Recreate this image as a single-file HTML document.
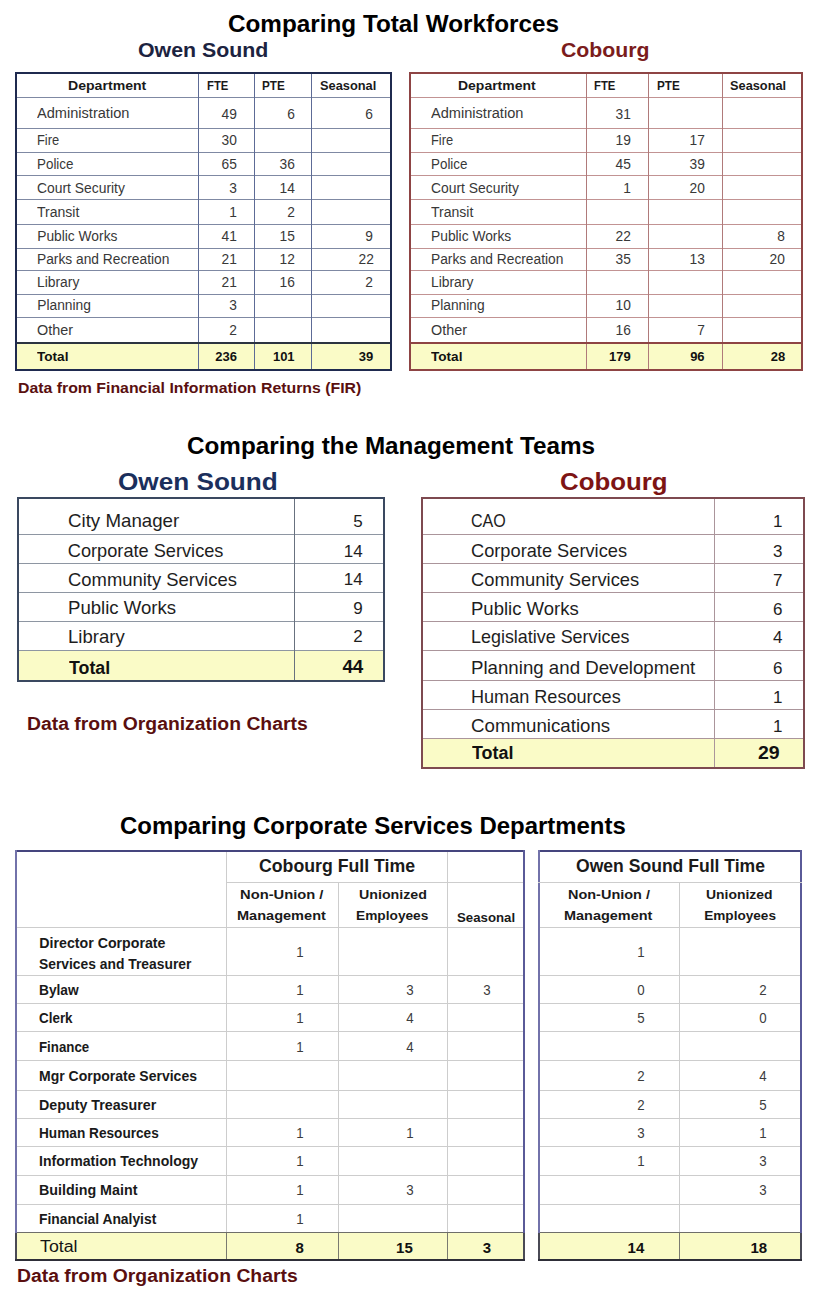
<!DOCTYPE html>
<html><head><meta charset="utf-8"><style>
html,body{margin:0;padding:0;background:#fff;}
body{width:816px;height:1297px;position:relative;overflow:hidden;font-family:"Liberation Sans",sans-serif;}
body>div{position:absolute;box-sizing:content-box;}
.t{line-height:1;white-space:nowrap;}
</style></head><body>
<div class="t" style="left:228.00px;top:13.28px;font-size:23.3px;font-weight:bold;color:#000;transform:scaleX(1.0421);transform-origin:left;">Comparing Total Workforces</div>
<div class="t" style="left:137.50px;top:40.27px;font-size:20px;font-weight:bold;color:#1c2340;transform:scaleX(1.0661);transform-origin:left;">Owen Sound</div>
<div class="t" style="left:560.70px;top:39.69px;font-size:20.8px;font-weight:bold;color:#7b1c1c;transform:scaleX(1.0226);transform-origin:left;">Cobourg</div>
<div style="left:15px;top:344px;width:377px;height:25px;background:#fafbc7"></div>
<div style="left:15px;top:97px;width:377px;height:1px;background:#7f89a3"></div>
<div style="left:15px;top:128px;width:377px;height:1px;background:#7f89a3"></div>
<div style="left:15px;top:152px;width:377px;height:1px;background:#7f89a3"></div>
<div style="left:15px;top:175px;width:377px;height:1px;background:#7f89a3"></div>
<div style="left:15px;top:199px;width:377px;height:1px;background:#7f89a3"></div>
<div style="left:15px;top:224px;width:377px;height:1px;background:#7f89a3"></div>
<div style="left:15px;top:248px;width:377px;height:1px;background:#7f89a3"></div>
<div style="left:15px;top:270px;width:377px;height:1px;background:#7f89a3"></div>
<div style="left:15px;top:294px;width:377px;height:1px;background:#7f89a3"></div>
<div style="left:15px;top:317px;width:377px;height:1px;background:#7f89a3"></div>
<div style="left:198px;top:72px;width:1px;height:299px;background:#5d6b96"></div>
<div style="left:254px;top:72px;width:1px;height:299px;background:#5d6b96"></div>
<div style="left:311px;top:72px;width:1px;height:299px;background:#5d6b96"></div>
<div style="left:15px;top:342px;width:377px;height:2px;background:#2c3440"></div>
<div style="left:15px;top:72px;width:373px;height:295px;border:2px solid #1f2a4f"></div>
<div class="t" style="left:68.10px;top:79.10px;font-size:13px;font-weight:bold;color:#1a1a1a;transform:scaleX(1.0839);transform-origin:left;">Department</div>
<div class="t" style="left:206.90px;top:79.10px;font-size:13px;font-weight:bold;color:#1a1a1a;transform:scaleX(0.8675);transform-origin:left;">FTE</div>
<div class="t" style="left:262.30px;top:79.10px;font-size:13px;font-weight:bold;color:#1a1a1a;transform:scaleX(0.9018);transform-origin:left;">PTE</div>
<div class="t" style="left:319.90px;top:79.10px;font-size:13px;font-weight:bold;color:#1a1a1a;transform:scaleX(0.9862);transform-origin:left;">Seasonal</div>
<div class="t" style="left:37.20px;top:104.75px;font-size:15.3px;color:#383838;transform:scaleX(0.9531);transform-origin:left;">Administration</div>
<div class="t" style="left:221.20px;top:106.88px;font-size:14.2px;color:#383838;transform:scaleX(0.9700);transform-origin:right;">49</div>
<div class="t" style="left:286.70px;top:106.88px;font-size:14.2px;color:#383838;transform:scaleX(0.9700);transform-origin:right;">6</div>
<div class="t" style="left:365.40px;top:106.88px;font-size:14.2px;color:#383838;transform:scaleX(0.9700);transform-origin:right;">6</div>
<div class="t" style="left:37.20px;top:134.22px;font-size:13.8px;color:#383838;transform:scaleX(0.9341);transform-origin:left;">Fire</div>
<div class="t" style="left:221.20px;top:133.38px;font-size:14.2px;color:#383838;transform:scaleX(0.9700);transform-origin:right;">30</div>
<div class="t" style="left:37.20px;top:158.02px;font-size:13.8px;color:#383838;transform:scaleX(0.9711);transform-origin:left;">Police</div>
<div class="t" style="left:221.20px;top:157.18px;font-size:14.2px;color:#383838;transform:scaleX(0.9700);transform-origin:right;">65</div>
<div class="t" style="left:278.80px;top:157.18px;font-size:14.2px;color:#383838;transform:scaleX(0.9700);transform-origin:right;">36</div>
<div class="t" style="left:37.20px;top:181.92px;font-size:13.8px;color:#383838;transform:scaleX(1.0054);transform-origin:left;">Court Security</div>
<div class="t" style="left:229.10px;top:181.08px;font-size:14.2px;color:#383838;transform:scaleX(0.9700);transform-origin:right;">3</div>
<div class="t" style="left:278.80px;top:181.08px;font-size:14.2px;color:#383838;transform:scaleX(0.9700);transform-origin:right;">14</div>
<div class="t" style="left:37.20px;top:206.22px;font-size:13.8px;color:#383838;transform:scaleX(1.0177);transform-origin:left;">Transit</div>
<div class="t" style="left:229.10px;top:205.38px;font-size:14.2px;color:#383838;transform:scaleX(0.9700);transform-origin:right;">1</div>
<div class="t" style="left:286.70px;top:205.38px;font-size:14.2px;color:#383838;transform:scaleX(0.9700);transform-origin:right;">2</div>
<div class="t" style="left:37.20px;top:229.62px;font-size:13.8px;color:#383838;">Public Works</div>
<div class="t" style="left:221.20px;top:228.78px;font-size:14.2px;color:#383838;transform:scaleX(0.9700);transform-origin:right;">41</div>
<div class="t" style="left:278.80px;top:228.78px;font-size:14.2px;color:#383838;transform:scaleX(0.9700);transform-origin:right;">15</div>
<div class="t" style="left:365.40px;top:228.78px;font-size:14.2px;color:#383838;transform:scaleX(0.9700);transform-origin:right;">9</div>
<div class="t" style="left:37.20px;top:252.82px;font-size:13.8px;color:#383838;transform:scaleX(0.9977);transform-origin:left;">Parks and Recreation</div>
<div class="t" style="left:221.20px;top:251.98px;font-size:14.2px;color:#383838;transform:scaleX(0.9700);transform-origin:right;">21</div>
<div class="t" style="left:278.80px;top:251.98px;font-size:14.2px;color:#383838;transform:scaleX(0.9700);transform-origin:right;">12</div>
<div class="t" style="left:357.50px;top:251.98px;font-size:14.2px;color:#383838;transform:scaleX(0.9700);transform-origin:right;">22</div>
<div class="t" style="left:37.20px;top:275.52px;font-size:13.8px;color:#383838;transform:scaleX(1.0051);transform-origin:left;">Library</div>
<div class="t" style="left:221.20px;top:274.68px;font-size:14.2px;color:#383838;transform:scaleX(0.9700);transform-origin:right;">21</div>
<div class="t" style="left:278.80px;top:274.68px;font-size:14.2px;color:#383838;transform:scaleX(0.9700);transform-origin:right;">16</div>
<div class="t" style="left:365.40px;top:274.68px;font-size:14.2px;color:#383838;transform:scaleX(0.9700);transform-origin:right;">2</div>
<div class="t" style="left:37.20px;top:299.22px;font-size:13.8px;color:#383838;">Planning</div>
<div class="t" style="left:229.10px;top:298.38px;font-size:14.2px;color:#383838;transform:scaleX(0.9700);transform-origin:right;">3</div>
<div class="t" style="left:37.20px;top:323.72px;font-size:13.8px;color:#383838;transform:scaleX(1.0431);transform-origin:left;">Other</div>
<div class="t" style="left:229.10px;top:322.88px;font-size:14.2px;color:#383838;transform:scaleX(0.9700);transform-origin:right;">2</div>
<div class="t" style="left:37.20px;top:349.90px;font-size:13px;font-weight:bold;color:#111;transform:scaleX(1.0436);transform-origin:left;">Total</div>
<div class="t" style="left:215.31px;top:349.90px;font-size:13px;font-weight:bold;color:#111;">236</div>
<div class="t" style="left:272.91px;top:349.90px;font-size:13px;font-weight:bold;color:#111;">101</div>
<div class="t" style="left:358.84px;top:349.90px;font-size:13px;font-weight:bold;color:#111;">39</div>
<div style="left:409px;top:344px;width:394px;height:25px;background:#fafbc7"></div>
<div style="left:409px;top:97px;width:394px;height:1px;background:#c29393"></div>
<div style="left:409px;top:128px;width:394px;height:1px;background:#c29393"></div>
<div style="left:409px;top:152px;width:394px;height:1px;background:#c29393"></div>
<div style="left:409px;top:175px;width:394px;height:1px;background:#c29393"></div>
<div style="left:409px;top:199px;width:394px;height:1px;background:#c29393"></div>
<div style="left:409px;top:224px;width:394px;height:1px;background:#c29393"></div>
<div style="left:409px;top:248px;width:394px;height:1px;background:#c29393"></div>
<div style="left:409px;top:270px;width:394px;height:1px;background:#c29393"></div>
<div style="left:409px;top:294px;width:394px;height:1px;background:#c29393"></div>
<div style="left:409px;top:317px;width:394px;height:1px;background:#c29393"></div>
<div style="left:586px;top:72px;width:1px;height:299px;background:#b07a7a"></div>
<div style="left:648px;top:72px;width:1px;height:299px;background:#b07a7a"></div>
<div style="left:722px;top:72px;width:1px;height:299px;background:#b07a7a"></div>
<div style="left:409px;top:342px;width:394px;height:2px;background:#8e4444"></div>
<div style="left:409px;top:72px;width:390px;height:295px;border:2px solid #8e4444"></div>
<div class="t" style="left:458.10px;top:79.10px;font-size:13px;font-weight:bold;color:#1a1a1a;transform:scaleX(1.0742);transform-origin:left;">Department</div>
<div class="t" style="left:593.80px;top:79.10px;font-size:13px;font-weight:bold;color:#1a1a1a;transform:scaleX(0.8675);transform-origin:left;">FTE</div>
<div class="t" style="left:656.60px;top:79.10px;font-size:13px;font-weight:bold;color:#1a1a1a;transform:scaleX(0.9018);transform-origin:left;">PTE</div>
<div class="t" style="left:729.90px;top:79.10px;font-size:13px;font-weight:bold;color:#1a1a1a;transform:scaleX(0.9827);transform-origin:left;">Seasonal</div>
<div class="t" style="left:431.00px;top:104.75px;font-size:15.3px;color:#383838;transform:scaleX(0.9531);transform-origin:left;">Administration</div>
<div class="t" style="left:615.00px;top:106.88px;font-size:14.2px;color:#383838;transform:scaleX(0.9700);transform-origin:right;">31</div>
<div class="t" style="left:431.00px;top:134.22px;font-size:13.8px;color:#383838;transform:scaleX(0.9341);transform-origin:left;">Fire</div>
<div class="t" style="left:615.00px;top:133.38px;font-size:14.2px;color:#383838;transform:scaleX(0.9700);transform-origin:right;">19</div>
<div class="t" style="left:688.80px;top:133.38px;font-size:14.2px;color:#383838;transform:scaleX(0.9700);transform-origin:right;">17</div>
<div class="t" style="left:431.00px;top:158.02px;font-size:13.8px;color:#383838;transform:scaleX(0.9711);transform-origin:left;">Police</div>
<div class="t" style="left:615.00px;top:157.18px;font-size:14.2px;color:#383838;transform:scaleX(0.9700);transform-origin:right;">45</div>
<div class="t" style="left:688.80px;top:157.18px;font-size:14.2px;color:#383838;transform:scaleX(0.9700);transform-origin:right;">39</div>
<div class="t" style="left:431.00px;top:181.92px;font-size:13.8px;color:#383838;transform:scaleX(1.0054);transform-origin:left;">Court Security</div>
<div class="t" style="left:622.90px;top:181.08px;font-size:14.2px;color:#383838;transform:scaleX(0.9700);transform-origin:right;">1</div>
<div class="t" style="left:688.80px;top:181.08px;font-size:14.2px;color:#383838;transform:scaleX(0.9700);transform-origin:right;">20</div>
<div class="t" style="left:431.00px;top:206.22px;font-size:13.8px;color:#383838;transform:scaleX(1.0177);transform-origin:left;">Transit</div>
<div class="t" style="left:431.00px;top:229.62px;font-size:13.8px;color:#383838;">Public Works</div>
<div class="t" style="left:615.00px;top:228.78px;font-size:14.2px;color:#383838;transform:scaleX(0.9700);transform-origin:right;">22</div>
<div class="t" style="left:777.30px;top:228.78px;font-size:14.2px;color:#383838;transform:scaleX(0.9700);transform-origin:right;">8</div>
<div class="t" style="left:431.00px;top:252.82px;font-size:13.8px;color:#383838;transform:scaleX(0.9977);transform-origin:left;">Parks and Recreation</div>
<div class="t" style="left:615.00px;top:251.98px;font-size:14.2px;color:#383838;transform:scaleX(0.9700);transform-origin:right;">35</div>
<div class="t" style="left:688.80px;top:251.98px;font-size:14.2px;color:#383838;transform:scaleX(0.9700);transform-origin:right;">13</div>
<div class="t" style="left:769.40px;top:251.98px;font-size:14.2px;color:#383838;transform:scaleX(0.9700);transform-origin:right;">20</div>
<div class="t" style="left:431.00px;top:275.52px;font-size:13.8px;color:#383838;transform:scaleX(1.0051);transform-origin:left;">Library</div>
<div class="t" style="left:431.00px;top:299.22px;font-size:13.8px;color:#383838;">Planning</div>
<div class="t" style="left:615.00px;top:298.38px;font-size:14.2px;color:#383838;transform:scaleX(0.9700);transform-origin:right;">10</div>
<div class="t" style="left:431.00px;top:323.72px;font-size:13.8px;color:#383838;transform:scaleX(1.0431);transform-origin:left;">Other</div>
<div class="t" style="left:615.00px;top:322.88px;font-size:14.2px;color:#383838;transform:scaleX(0.9700);transform-origin:right;">16</div>
<div class="t" style="left:696.70px;top:322.88px;font-size:14.2px;color:#383838;transform:scaleX(0.9700);transform-origin:right;">7</div>
<div class="t" style="left:431.00px;top:349.90px;font-size:13px;font-weight:bold;color:#111;transform:scaleX(1.0436);transform-origin:left;">Total</div>
<div class="t" style="left:609.11px;top:349.90px;font-size:13px;font-weight:bold;color:#111;">179</div>
<div class="t" style="left:690.14px;top:349.90px;font-size:13px;font-weight:bold;color:#111;">96</div>
<div class="t" style="left:770.74px;top:349.90px;font-size:13px;font-weight:bold;color:#111;">28</div>
<div class="t" style="left:18.10px;top:380.16px;font-size:15.4px;font-weight:bold;color:#5a0f0f;transform:scaleX(1.0294);transform-origin:left;">Data from Financial Information Returns (FIR)</div>
<div class="t" style="left:187.10px;top:434.91px;font-size:23.5px;font-weight:bold;color:#000;transform:scaleX(1.0323);transform-origin:left;">Comparing the Management Teams</div>
<div class="t" style="left:117.60px;top:470.21px;font-size:24.8px;font-weight:bold;color:#1b2f5c;transform:scaleX(1.0544);transform-origin:left;">Owen Sound</div>
<div class="t" style="left:560.20px;top:470.41px;font-size:24.8px;font-weight:bold;color:#7d1414;transform:scaleX(1.0406);transform-origin:left;">Cobourg</div>
<div style="left:19px;top:651px;width:365px;height:29px;background:#fafbc7"></div>
<div style="left:17px;top:534px;width:368px;height:1px;background:#8e96a2"></div>
<div style="left:17px;top:563px;width:368px;height:1px;background:#8e96a2"></div>
<div style="left:17px;top:592px;width:368px;height:1px;background:#8e96a2"></div>
<div style="left:17px;top:621px;width:368px;height:1px;background:#8e96a2"></div>
<div style="left:17px;top:650px;width:368px;height:1px;background:#8e96a2"></div>
<div style="left:294px;top:497px;width:1px;height:185px;background:#68717f"></div>
<div style="left:17px;top:497px;width:364px;height:181px;border:2px solid #3a4860"></div>
<div class="t" style="left:67.80px;top:512.39px;font-size:18.2px;color:#1e1e1e;transform:scaleX(1.0283);transform-origin:left;">City Manager</div>
<div class="t" style="left:67.80px;top:542.19px;font-size:18.2px;color:#1e1e1e;">Corporate Services</div>
<div class="t" style="left:67.80px;top:570.59px;font-size:18.2px;color:#1e1e1e;transform:scaleX(1.0127);transform-origin:left;">Community Services</div>
<div class="t" style="left:67.80px;top:599.19px;font-size:18.2px;color:#1e1e1e;transform:scaleX(1.0221);transform-origin:left;">Public Works</div>
<div class="t" style="left:67.80px;top:628.39px;font-size:18.2px;color:#1e1e1e;transform:scaleX(1.0192);transform-origin:left;">Library</div>
<div class="t" style="left:353.25px;top:513.01px;font-size:17px;color:#1e1e1e;">5</div>
<div class="t" style="left:343.79px;top:542.81px;font-size:17px;color:#1e1e1e;">14</div>
<div class="t" style="left:343.79px;top:571.21px;font-size:17px;color:#1e1e1e;">14</div>
<div class="t" style="left:353.25px;top:599.81px;font-size:17px;color:#1e1e1e;">9</div>
<div class="t" style="left:353.25px;top:628.11px;font-size:17px;color:#1e1e1e;">2</div>
<div class="t" style="left:69.20px;top:658.56px;font-size:18px;font-weight:bold;color:#111;transform:scaleX(0.9889);transform-origin:left;">Total</div>
<div class="t" style="left:342.54px;top:658.41px;font-size:18.3px;font-weight:bold;color:#111;transform:scaleX(1.0300);transform-origin:right;">44</div>
<div style="left:423px;top:739px;width:380px;height:28px;background:#fafbc7"></div>
<div style="left:421px;top:534px;width:384px;height:1px;background:#ab959b"></div>
<div style="left:421px;top:563px;width:384px;height:1px;background:#ab959b"></div>
<div style="left:421px;top:592px;width:384px;height:1px;background:#ab959b"></div>
<div style="left:421px;top:621px;width:384px;height:1px;background:#ab959b"></div>
<div style="left:421px;top:650px;width:384px;height:1px;background:#ab959b"></div>
<div style="left:421px;top:680px;width:384px;height:1px;background:#ab959b"></div>
<div style="left:421px;top:709px;width:384px;height:1px;background:#ab959b"></div>
<div style="left:421px;top:738px;width:384px;height:1px;background:#ab959b"></div>
<div style="left:714px;top:497px;width:1px;height:272px;background:#ab959b"></div>
<div style="left:421px;top:497px;width:380px;height:268px;border:2px solid #7e4a50"></div>
<div class="t" style="left:471.30px;top:512.19px;font-size:18.2px;color:#1e1e1e;transform:scaleX(0.8824);transform-origin:left;">CAO</div>
<div class="t" style="left:471.30px;top:542.09px;font-size:18.2px;color:#1e1e1e;transform:scaleX(1.0021);transform-origin:left;">Corporate Services</div>
<div class="t" style="left:471.30px;top:570.99px;font-size:18.2px;color:#1e1e1e;transform:scaleX(1.0085);transform-origin:left;">Community Services</div>
<div class="t" style="left:471.30px;top:599.69px;font-size:18.2px;color:#1e1e1e;transform:scaleX(1.0183);transform-origin:left;">Public Works</div>
<div class="t" style="left:471.30px;top:627.79px;font-size:18.2px;color:#1e1e1e;transform:scaleX(0.9854);transform-origin:left;">Legislative Services</div>
<div class="t" style="left:471.30px;top:659.19px;font-size:18.2px;color:#1e1e1e;transform:scaleX(1.0267);transform-origin:left;">Planning and Development</div>
<div class="t" style="left:471.30px;top:688.49px;font-size:18.2px;color:#1e1e1e;transform:scaleX(0.9939);transform-origin:left;">Human Resources</div>
<div class="t" style="left:471.30px;top:717.19px;font-size:18.2px;color:#1e1e1e;transform:scaleX(1.0277);transform-origin:left;">Communications</div>
<div class="t" style="left:773.05px;top:513.01px;font-size:17px;color:#1e1e1e;">1</div>
<div class="t" style="left:773.05px;top:542.91px;font-size:17px;color:#1e1e1e;">3</div>
<div class="t" style="left:773.05px;top:571.81px;font-size:17px;color:#1e1e1e;">7</div>
<div class="t" style="left:773.05px;top:600.51px;font-size:17px;color:#1e1e1e;">6</div>
<div class="t" style="left:773.05px;top:628.61px;font-size:17px;color:#1e1e1e;">4</div>
<div class="t" style="left:773.05px;top:659.51px;font-size:17px;color:#1e1e1e;">6</div>
<div class="t" style="left:773.05px;top:688.81px;font-size:17px;color:#1e1e1e;">1</div>
<div class="t" style="left:773.05px;top:717.51px;font-size:17px;color:#1e1e1e;">1</div>
<div class="t" style="left:472.20px;top:743.66px;font-size:18px;font-weight:bold;color:#111;transform:scaleX(0.9961);transform-origin:left;">Total</div>
<div class="t" style="left:759.11px;top:743.66px;font-size:18.6px;font-weight:bold;color:#111;transform:scaleX(1.0500);transform-origin:right;">29</div>
<div class="t" style="left:27.10px;top:715.11px;font-size:18.3px;font-weight:bold;color:#5a0f0f;transform:scaleX(1.0588);transform-origin:left;">Data from Organization Charts</div>
<div class="t" style="left:120.00px;top:814.69px;font-size:23.4px;font-weight:bold;color:#000;transform:scaleX(1.0240);transform-origin:left;">Comparing Corporate Services Departments</div>
<div style="left:15px;top:1233px;width:510px;height:27px;background:#fafbc7"></div>
<div style="left:226px;top:882px;width:299px;height:1px;background:#cdcdcd"></div>
<div style="left:15px;top:927px;width:510px;height:1px;background:#cdcdcd"></div>
<div style="left:15px;top:975px;width:510px;height:1px;background:#cdcdcd"></div>
<div style="left:15px;top:1003px;width:510px;height:1px;background:#cdcdcd"></div>
<div style="left:15px;top:1031px;width:510px;height:1px;background:#cdcdcd"></div>
<div style="left:15px;top:1060px;width:510px;height:1px;background:#cdcdcd"></div>
<div style="left:15px;top:1090px;width:510px;height:1px;background:#cdcdcd"></div>
<div style="left:15px;top:1118px;width:510px;height:1px;background:#cdcdcd"></div>
<div style="left:15px;top:1146px;width:510px;height:1px;background:#cdcdcd"></div>
<div style="left:15px;top:1175px;width:510px;height:1px;background:#cdcdcd"></div>
<div style="left:15px;top:1204px;width:510px;height:1px;background:#cdcdcd"></div>
<div style="left:226px;top:850px;width:1px;height:411px;background:#cdcdcd"></div>
<div style="left:447px;top:850px;width:1px;height:411px;background:#cdcdcd"></div>
<div style="left:338px;top:882px;width:1px;height:379px;background:#cdcdcd"></div>
<div style="left:15px;top:1232px;width:510px;height:1px;background:#6e6e6a"></div>
<div style="left:226px;top:1233px;width:1px;height:27px;background:#7a7a70"></div>
<div style="left:447px;top:1233px;width:1px;height:27px;background:#7a7a70"></div>
<div style="left:338px;top:1233px;width:1px;height:27px;background:#7a7a70"></div>
<div style="left:15px;top:850px;width:510px;height:2px;background:#45457e"></div>
<div style="left:15px;top:850px;width:2px;height:383px;background:#7272aa"></div>
<div style="left:523px;top:850px;width:2px;height:383px;background:#5a5a98"></div>
<div style="left:15px;top:1233px;width:2px;height:28px;background:#4a4a55"></div>
<div style="left:523px;top:1233px;width:2px;height:28px;background:#4a4a55"></div>
<div style="left:15px;top:1259px;width:510px;height:2px;background:#2e2e38"></div>
<div style="left:538px;top:1233px;width:264px;height:27px;background:#fafbc7"></div>
<div style="left:538px;top:927px;width:264px;height:1px;background:#cdcdcd"></div>
<div style="left:538px;top:975px;width:264px;height:1px;background:#cdcdcd"></div>
<div style="left:538px;top:1003px;width:264px;height:1px;background:#cdcdcd"></div>
<div style="left:538px;top:1031px;width:264px;height:1px;background:#cdcdcd"></div>
<div style="left:538px;top:1060px;width:264px;height:1px;background:#cdcdcd"></div>
<div style="left:538px;top:1090px;width:264px;height:1px;background:#cdcdcd"></div>
<div style="left:538px;top:1118px;width:264px;height:1px;background:#cdcdcd"></div>
<div style="left:538px;top:1146px;width:264px;height:1px;background:#cdcdcd"></div>
<div style="left:538px;top:1175px;width:264px;height:1px;background:#cdcdcd"></div>
<div style="left:538px;top:1204px;width:264px;height:1px;background:#cdcdcd"></div>
<div style="left:679px;top:882px;width:1px;height:379px;background:#cdcdcd"></div>
<div style="left:538px;top:1232px;width:264px;height:1px;background:#6e6e6a"></div>
<div style="left:679px;top:1233px;width:1px;height:27px;background:#7a7a70"></div>
<div style="left:538px;top:850px;width:264px;height:2px;background:#45457e"></div>
<div style="left:538px;top:850px;width:2px;height:383px;background:#7272aa"></div>
<div style="left:800px;top:850px;width:2px;height:383px;background:#5a5a98"></div>
<div style="left:538px;top:1233px;width:2px;height:28px;background:#4a4a55"></div>
<div style="left:800px;top:1233px;width:2px;height:28px;background:#4a4a55"></div>
<div style="left:538px;top:1259px;width:264px;height:2px;background:#2e2e38"></div>
<div style="left:538px;top:882px;width:264px;height:1px;background:#cdcdcd"></div>
<div class="t" style="left:258.70px;top:857.21px;font-size:18.3px;font-weight:bold;color:#1a1a1a;transform:scaleX(0.9683);transform-origin:left;">Cobourg Full Time</div>
<div class="t" style="left:240.30px;top:887.69px;font-size:13.6px;font-weight:bold;color:#1a1a1a;transform:scaleX(1.0838);transform-origin:left;">Non-Union /</div>
<div class="t" style="left:237.40px;top:909.39px;font-size:13.6px;font-weight:bold;color:#1a1a1a;transform:scaleX(1.0694);transform-origin:left;">Management</div>
<div class="t" style="left:358.70px;top:887.69px;font-size:13.6px;font-weight:bold;color:#1a1a1a;transform:scaleX(1.0466);transform-origin:left;">Unionized</div>
<div class="t" style="left:356.10px;top:909.39px;font-size:13.6px;font-weight:bold;color:#1a1a1a;transform:scaleX(1.0082);transform-origin:left;">Employees</div>
<div class="t" style="left:456.80px;top:911.19px;font-size:13.6px;font-weight:bold;color:#1a1a1a;transform:scaleX(0.9729);transform-origin:left;">Seasonal</div>
<div class="t" style="left:575.60px;top:857.41px;font-size:18.3px;font-weight:bold;color:#1a1a1a;transform:scaleX(0.9609);transform-origin:left;">Owen Sound Full Time</div>
<div class="t" style="left:567.90px;top:887.69px;font-size:13.6px;font-weight:bold;color:#1a1a1a;transform:scaleX(1.0643);transform-origin:left;">Non-Union /</div>
<div class="t" style="left:564.30px;top:909.39px;font-size:13.6px;font-weight:bold;color:#1a1a1a;transform:scaleX(1.0634);transform-origin:left;">Management</div>
<div class="t" style="left:706.30px;top:887.69px;font-size:13.6px;font-weight:bold;color:#1a1a1a;transform:scaleX(1.0250);transform-origin:left;">Unionized</div>
<div class="t" style="left:704.20px;top:909.39px;font-size:13.6px;font-weight:bold;color:#1a1a1a;">Employees</div>
<div class="t" style="left:39.30px;top:935.88px;font-size:14.2px;font-weight:bold;color:#1a1a1a;">Director Corporate</div>
<div class="t" style="left:39.30px;top:957.38px;font-size:14.2px;font-weight:bold;color:#1a1a1a;transform:scaleX(0.9757);transform-origin:left;">Services and Treasurer</div>
<div class="t" style="left:39.30px;top:982.88px;font-size:14.2px;font-weight:bold;color:#1a1a1a;transform:scaleX(0.9673);transform-origin:left;">Bylaw</div>
<div class="t" style="left:39.30px;top:1011.48px;font-size:14.2px;font-weight:bold;color:#1a1a1a;transform:scaleX(0.9459);transform-origin:left;">Clerk</div>
<div class="t" style="left:39.30px;top:1040.18px;font-size:14.2px;font-weight:bold;color:#1a1a1a;transform:scaleX(0.9374);transform-origin:left;">Finance</div>
<div class="t" style="left:39.30px;top:1069.08px;font-size:14.2px;font-weight:bold;color:#1a1a1a;transform:scaleX(0.9869);transform-origin:left;">Mgr Corporate Services</div>
<div class="t" style="left:39.30px;top:1097.78px;font-size:14.2px;font-weight:bold;color:#1a1a1a;transform:scaleX(1.0051);transform-origin:left;">Deputy Treasurer</div>
<div class="t" style="left:39.30px;top:1125.88px;font-size:14.2px;font-weight:bold;color:#1a1a1a;transform:scaleX(0.9616);transform-origin:left;">Human Resources</div>
<div class="t" style="left:39.30px;top:1154.48px;font-size:14.2px;font-weight:bold;color:#1a1a1a;transform:scaleX(0.9915);transform-origin:left;">Information Technology</div>
<div class="t" style="left:39.30px;top:1183.48px;font-size:14.2px;font-weight:bold;color:#1a1a1a;transform:scaleX(1.0071);transform-origin:left;">Building Maint</div>
<div class="t" style="left:39.30px;top:1211.58px;font-size:14.2px;font-weight:bold;color:#1a1a1a;transform:scaleX(0.9766);transform-origin:left;">Financial Analyist</div>
<div class="t" style="left:295.71px;top:944.65px;font-size:14px;color:#3c3c3c;transform:scaleX(0.9500);transform-origin:center;">1</div>
<div class="t" style="left:636.81px;top:944.65px;font-size:14px;color:#3c3c3c;transform:scaleX(0.9500);transform-origin:center;">1</div>
<div class="t" style="left:295.71px;top:983.15px;font-size:14px;color:#3c3c3c;transform:scaleX(0.9500);transform-origin:center;">1</div>
<div class="t" style="left:405.71px;top:983.15px;font-size:14px;color:#3c3c3c;transform:scaleX(0.9500);transform-origin:center;">3</div>
<div class="t" style="left:482.91px;top:983.15px;font-size:14px;color:#3c3c3c;transform:scaleX(0.9500);transform-origin:center;">3</div>
<div class="t" style="left:636.81px;top:983.15px;font-size:14px;color:#3c3c3c;transform:scaleX(0.9500);transform-origin:center;">0</div>
<div class="t" style="left:759.41px;top:983.15px;font-size:14px;color:#3c3c3c;transform:scaleX(0.9500);transform-origin:center;">2</div>
<div class="t" style="left:295.71px;top:1011.45px;font-size:14px;color:#3c3c3c;transform:scaleX(0.9500);transform-origin:center;">1</div>
<div class="t" style="left:405.71px;top:1011.45px;font-size:14px;color:#3c3c3c;transform:scaleX(0.9500);transform-origin:center;">4</div>
<div class="t" style="left:636.81px;top:1011.45px;font-size:14px;color:#3c3c3c;transform:scaleX(0.9500);transform-origin:center;">5</div>
<div class="t" style="left:759.41px;top:1011.45px;font-size:14px;color:#3c3c3c;transform:scaleX(0.9500);transform-origin:center;">0</div>
<div class="t" style="left:295.71px;top:1040.15px;font-size:14px;color:#3c3c3c;transform:scaleX(0.9500);transform-origin:center;">1</div>
<div class="t" style="left:405.71px;top:1040.15px;font-size:14px;color:#3c3c3c;transform:scaleX(0.9500);transform-origin:center;">4</div>
<div class="t" style="left:636.81px;top:1069.15px;font-size:14px;color:#3c3c3c;transform:scaleX(0.9500);transform-origin:center;">2</div>
<div class="t" style="left:759.41px;top:1069.15px;font-size:14px;color:#3c3c3c;transform:scaleX(0.9500);transform-origin:center;">4</div>
<div class="t" style="left:636.81px;top:1097.75px;font-size:14px;color:#3c3c3c;transform:scaleX(0.9500);transform-origin:center;">2</div>
<div class="t" style="left:759.41px;top:1097.75px;font-size:14px;color:#3c3c3c;transform:scaleX(0.9500);transform-origin:center;">5</div>
<div class="t" style="left:295.71px;top:1125.85px;font-size:14px;color:#3c3c3c;transform:scaleX(0.9500);transform-origin:center;">1</div>
<div class="t" style="left:405.71px;top:1125.85px;font-size:14px;color:#3c3c3c;transform:scaleX(0.9500);transform-origin:center;">1</div>
<div class="t" style="left:636.81px;top:1125.85px;font-size:14px;color:#3c3c3c;transform:scaleX(0.9500);transform-origin:center;">3</div>
<div class="t" style="left:759.41px;top:1125.85px;font-size:14px;color:#3c3c3c;transform:scaleX(0.9500);transform-origin:center;">1</div>
<div class="t" style="left:295.71px;top:1154.45px;font-size:14px;color:#3c3c3c;transform:scaleX(0.9500);transform-origin:center;">1</div>
<div class="t" style="left:636.81px;top:1154.45px;font-size:14px;color:#3c3c3c;transform:scaleX(0.9500);transform-origin:center;">1</div>
<div class="t" style="left:759.41px;top:1154.45px;font-size:14px;color:#3c3c3c;transform:scaleX(0.9500);transform-origin:center;">3</div>
<div class="t" style="left:295.71px;top:1183.45px;font-size:14px;color:#3c3c3c;transform:scaleX(0.9500);transform-origin:center;">1</div>
<div class="t" style="left:405.71px;top:1183.45px;font-size:14px;color:#3c3c3c;transform:scaleX(0.9500);transform-origin:center;">3</div>
<div class="t" style="left:759.41px;top:1183.45px;font-size:14px;color:#3c3c3c;transform:scaleX(0.9500);transform-origin:center;">3</div>
<div class="t" style="left:295.71px;top:1211.55px;font-size:14px;color:#3c3c3c;transform:scaleX(0.9500);transform-origin:center;">1</div>
<div class="t" style="left:40.30px;top:1239.06px;font-size:16px;color:#151515;transform:scaleX(1.1095);transform-origin:left;">Total</div>
<div class="t" style="left:295.43px;top:1240.00px;font-size:15px;font-weight:bold;color:#111;">8</div>
<div class="t" style="left:396.06px;top:1240.00px;font-size:15px;font-weight:bold;color:#111;">15</div>
<div class="t" style="left:482.63px;top:1240.00px;font-size:15px;font-weight:bold;color:#111;">3</div>
<div class="t" style="left:627.56px;top:1240.00px;font-size:15px;font-weight:bold;color:#111;">14</div>
<div class="t" style="left:750.46px;top:1240.00px;font-size:15px;font-weight:bold;color:#111;">18</div>
<div class="t" style="left:17.00px;top:1266.91px;font-size:18.3px;font-weight:bold;color:#5a0f0f;transform:scaleX(1.0588);transform-origin:left;">Data from Organization Charts</div>
</body></html>
